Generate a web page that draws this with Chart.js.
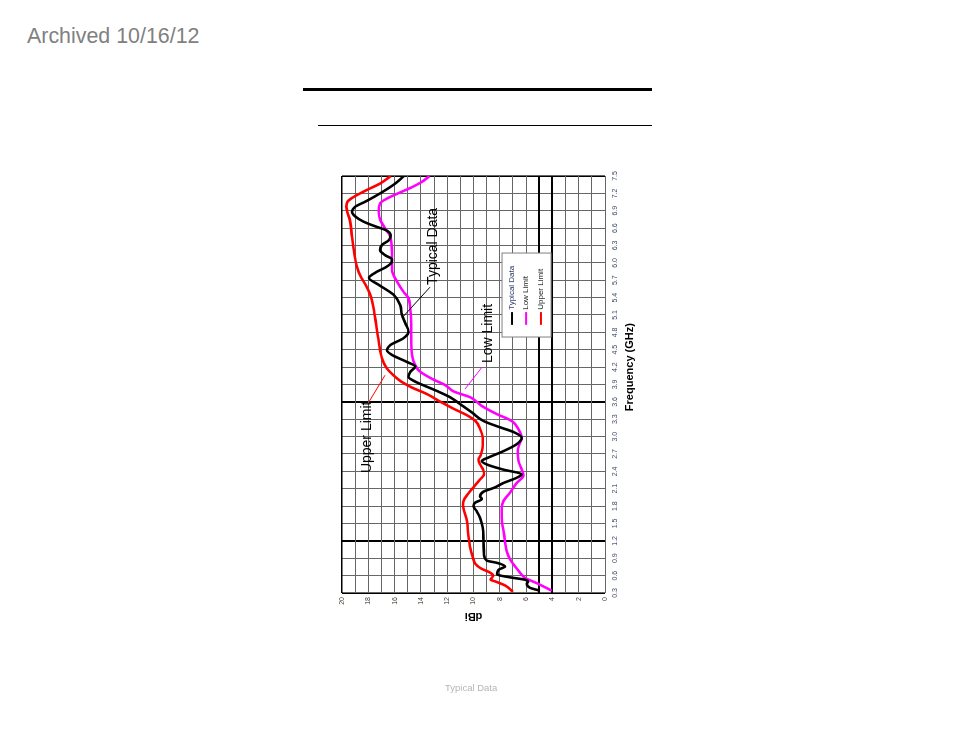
<!DOCTYPE html>
<html>
<head>
<meta charset="utf-8">
<script src="https://cdn.jsdelivr.net/npm/chart.js@4.4.0/dist/chart.umd.min.js"></script>
<style>
html, body { margin: 0; padding: 0; width: 954px; height: 738px; overflow: hidden; background: #fff; font-family: 'Liberation Sans', Arial, sans-serif; }
#archived { position: absolute; left: 27px; top: 25px; font-size: 21.4px; line-height: 22px; color: #808080; }
.rule { position: absolute; background: #000; }
#rule1 { left: 303px; top: 88px; width: 349px; height: 2.5px; }
#rule2 { left: 318px; top: 124.5px; width: 334px; height: 1.3px; }
#footer { position: absolute; left: 445px; top: 683px; font-size: 9.5px; line-height: 9.5px; color: #b5b5b5; }
/* chart is drawn upright, then turned a quarter turn like the scanned page */
#wrap { position: absolute; left: 108px; top: -108px; width: 738px; height: 954px; transform: rotate(-90deg); }
</style>
</head>
<body>
<div id="archived">Archived 10/16/12</div>
<div class="rule" id="rule1"></div>
<div class="rule" id="rule2"></div>
<div id="wrap"><canvas id="chart" width="738" height="954"></canvas></div>
<div id="footer">Typical Data</div>

<script>
// --- data (frequency in GHz, gain in dBi) ---
const typicalFreq = [0.34, 0.39, 0.46, 0.50, 0.53, 0.57, 0.62, 0.70, 0.76, 0.82, 0.86, 0.96, 1.19, 1.43, 1.60, 1.71, 1.80, 1.86, 1.92, 1.97, 2.05, 2.12, 2.20, 2.29, 2.35, 2.43, 2.52, 2.58, 2.64, 2.75, 2.87, 2.98, 3.08, 3.16, 3.27, 3.42, 3.56, 3.68, 3.79, 3.91, 3.97, 4.03, 4.12, 4.21, 4.29, 4.41, 4.49, 4.58, 4.70, 4.81, 4.96, 5.10, 5.27, 5.45, 5.62, 5.74, 5.84, 5.92, 6.00, 6.06, 6.13, 6.22, 6.31, 6.39, 6.48, 6.57, 6.62, 6.71, 6.80, 6.88, 6.97, 7.06, 7.20, 7.37, 7.50];
const typicalGain = [4.95, 5.7, 5.95, 5.85, 6.1, 7.2, 8.2, 8.1, 7.6, 8.2, 9.0, 9.2, 9.24, 9.3, 9.5, 9.75, 10.0, 9.87, 9.37, 9.5, 9.24, 8.4, 7.72, 6.71, 6.33, 7.72, 8.99, 9.37, 8.86, 7.72, 6.71, 6.33, 6.96, 7.97, 9.24, 10.13, 11.0, 11.77, 12.8, 14.05, 14.6, 14.94, 14.8, 14.43, 15.06, 16.2, 16.58, 16.33, 15.32, 14.94, 15.19, 15.44, 15.57, 16.08, 17.2, 17.95, 17.4, 16.7, 16.25, 16.2, 16.7, 17.1, 16.96, 16.45, 16.3, 16.7, 17.34, 18.35, 18.99, 19.24, 18.99, 18.2, 17.1, 15.95, 15.3];

const lowFreq = [0.34, 0.47, 0.56, 0.65, 0.76, 0.88, 1.02, 1.31, 1.60, 1.77, 1.89, 2.00, 2.09, 2.20, 2.33, 2.43, 2.58, 2.75, 2.90, 2.98, 3.13, 3.27, 3.39, 3.53, 3.68, 3.78, 3.89, 3.98, 4.12, 4.23, 4.41, 4.64, 4.93, 5.22, 5.39, 5.50, 5.68, 5.79, 5.87, 6.16, 6.45, 6.59, 6.74, 6.88, 7.03, 7.11, 7.23, 7.32, 7.40, 7.50];
const lowGain = [4.05, 5.19, 6.08, 6.46, 6.84, 7.22, 7.47, 7.67, 7.85, 7.85, 7.72, 7.34, 7.05, 6.71, 6.2, 6.33, 6.58, 6.63, 6.46, 6.33, 6.58, 7.09, 8.23, 9.37, 10.25, 11.5, 12.15, 13.0, 14.05, 14.43, 14.68, 14.73, 14.73, 14.81, 14.94, 15.32, 15.82, 16.08, 16.2, 16.2, 16.33, 16.7, 17.09, 17.2, 17.1, 16.58, 15.44, 14.56, 13.92, 13.34];

const upperFreq = [0.32, 0.43, 0.50, 0.53, 0.60, 0.66, 0.72, 0.80, 0.92, 1.08, 1.31, 1.54, 1.71, 1.82, 1.92, 2.00, 2.10, 2.26, 2.35, 2.42, 2.52, 2.60, 2.69, 2.84, 2.98, 3.13, 3.27, 3.37, 3.48, 3.60, 3.73, 3.85, 3.95, 4.06, 4.18, 4.35, 4.64, 4.93, 5.22, 5.45, 5.62, 5.75, 5.93, 6.16, 6.45, 6.74, 6.88, 6.97, 7.06, 7.14, 7.26, 7.37, 7.50];
const upperGain = [7.0, 7.6, 8.35, 8.7, 8.5, 8.8, 9.4, 9.85, 10.05, 10.25, 10.4, 10.5, 10.7, 10.8, 10.7, 10.45, 10.1, 9.5, 9.2, 9.25, 9.5, 9.62, 9.44, 9.3, 9.3, 9.5, 9.85, 10.5, 11.5, 12.5, 13.5, 14.7, 15.5, 16.1, 16.6, 16.95, 17.2, 17.4, 17.6, 17.85, 18.2, 18.55, 18.86, 19.06, 19.24, 19.4, 19.6, 19.67, 19.57, 19.1, 18.1, 17.1, 16.3];

const seriesNames = ['Typical Data', 'Low Limit', 'Upper Limit'];
const seriesColors = ['#000000', '#ff00ff', '#ff0000'];

const freqMin = 0.3, freqMax = 7.5, freqStep = 0.3;
const gainMin = 0, gainMax = 20;
const heavyFreqLines = [1.2, 3.6];
const heavyGainLines = [4, 5];

const FONT = "'Liberation Sans', Arial, sans-serif";

function toPoints(fs, gs) {
    return fs.map((f, i) => ({ x: f, y: gs[i] }));
}
function near(v, list) {
    return list.some(t => Math.abs(v - t) < 0.01);
}

// callouts with leader lines, the boxed legend and the frequency title
const annotate = {
    id: 'annotate',
    afterDatasetsDraw(chart) {
        const { ctx, scales: { x, y }, chartArea } = chart;
        const px = v => x.getPixelForValue(v);
        const py = v => y.getPixelForValue(v);
        ctx.save();

        const notes = [
            { text: 'Typical Data', f: 5.62, g: 12.74, from: [5.58, 13.31], to: [5.05, 15.44], color: seriesColors[0] },
            { text: 'Low Limit', f: 4.27, g: 8.59, from: [4.20, 9.35], to: [3.82, 10.65], color: seriesColors[1] },
            { text: 'Upper Limit', f: 2.37, g: 17.79, from: [3.60, 17.95], to: [4.06, 16.73], color: seriesColors[2] }
        ];
        notes.forEach(n => {
            ctx.strokeStyle = n.color;
            ctx.lineWidth = 1;
            ctx.beginPath();
            ctx.moveTo(px(n.from[0]), py(n.from[1]));
            ctx.lineTo(px(n.to[0]), py(n.to[1]));
            ctx.stroke();
            ctx.fillStyle = '#000';
            ctx.font = '14px ' + FONT;
            ctx.textAlign = 'left';
            ctx.textBaseline = 'alphabetic';
            ctx.fillText(n.text, px(n.f), py(n.g));
        });

        // legend box
        const bx0 = px(4.72), bx1 = px(6.17);
        const by0 = py(7.83), by1 = py(4.1);
        ctx.fillStyle = '#fff';
        ctx.fillRect(bx0, by0, bx1 - bx0, by1 - by0);
        ctx.strokeStyle = '#808080';
        ctx.lineWidth = 1;
        ctx.strokeRect(bx0, by0, bx1 - bx0, by1 - by0);
        const rows = [7.07, 6.0, 4.87];
        seriesNames.forEach((name, i) => {
            const yy = py(rows[i]);
            ctx.strokeStyle = seriesColors[i];
            ctx.lineWidth = 2;
            ctx.beginPath();
            ctx.moveTo(px(4.93), yy);
            ctx.lineTo(px(5.15), yy);
            ctx.stroke();
            ctx.fillStyle = i === 0 ? '#1c2f5c' : '#222';
            ctx.font = '8px ' + FONT;
            ctx.textBaseline = 'middle';
            ctx.fillText(name, px(5.19), yy);
        });

        // axis title, sits a little off centre in the original
        ctx.fillStyle = '#000';
        ctx.font = 'bold 11px ' + FONT;
        ctx.textAlign = 'center';
        ctx.textBaseline = 'middle';
        ctx.fillText('Frequency (GHz)', px(4.2), chartArea.bottom + 25);

        ctx.restore();
    }
};

const datasets = [
    [typicalFreq, typicalGain],
    [lowFreq, lowGain],
    [upperFreq, upperGain]
].map(([fs, gs], i) => ({
    label: seriesNames[i],
    data: toPoints(fs, gs),
    borderColor: seriesColors[i],
    borderWidth: 2.6,
    pointRadius: 0,
    fill: false,
    cubicInterpolationMode: 'monotone'
}));

new Chart(document.getElementById('chart'), {
    type: 'line',
    data: { datasets },
    options: {
        responsive: false,
        animation: false,
        events: [],
        layout: { padding: { left: 111, right: 176, top: 342, bottom: 317 } },
        plugins: { legend: { display: false }, tooltip: { enabled: false } },
        scales: {
            x: {
                type: 'linear',
                min: freqMin,
                max: freqMax,
                afterFit: s => { s.height = 32; },
                ticks: {
                    stepSize: freqStep,
                    autoSkip: false,
                    maxRotation: 0,
                    padding: 6,
                    color: '#3d4a66',
                    font: { family: FONT, size: 7 },
                    callback: v => Number(v).toFixed(1)
                },
                grid: {
                    drawTicks: false,
                    color: c => (near(c.tick.value, heavyFreqLines) || near(c.tick.value, [freqMin, freqMax]) ? '#000' : '#666'),
                    lineWidth: c => (near(c.tick.value, heavyFreqLines) ? 2 : near(c.tick.value, [freqMin, freqMax]) ? 1.6 : 1)
                },
                border: { display: false }
            },
            y: {
                type: 'linear',
                min: gainMin,
                max: gainMax,
                afterFit: s => { s.width = 34; },
                ticks: {
                    stepSize: 1,
                    autoSkip: false,
                    padding: 4,
                    color: '#4a3f30',
                    font: { family: FONT, size: 7 },
                    callback: v => (v % 2 === 0 ? String(v) : '')
                },
                grid: {
                    drawTicks: false,
                    color: c => (heavyGainLines.includes(c.tick.value) || c.tick.value === gainMax ? '#000' : '#666'),
                    lineWidth: c => (heavyGainLines.includes(c.tick.value) ? 2 : c.tick.value === gainMax ? 1.6 : 1)
                },
                border: { display: false },
                title: {
                    display: true,
                    text: 'dBi',
                    color: '#000',
                    padding: { top: 4, bottom: 0 },
                    font: { family: FONT, size: 11, weight: 'bold' }
                }
            }
        }
    },
    plugins: [annotate]
});
</script>
</body>
</html>
